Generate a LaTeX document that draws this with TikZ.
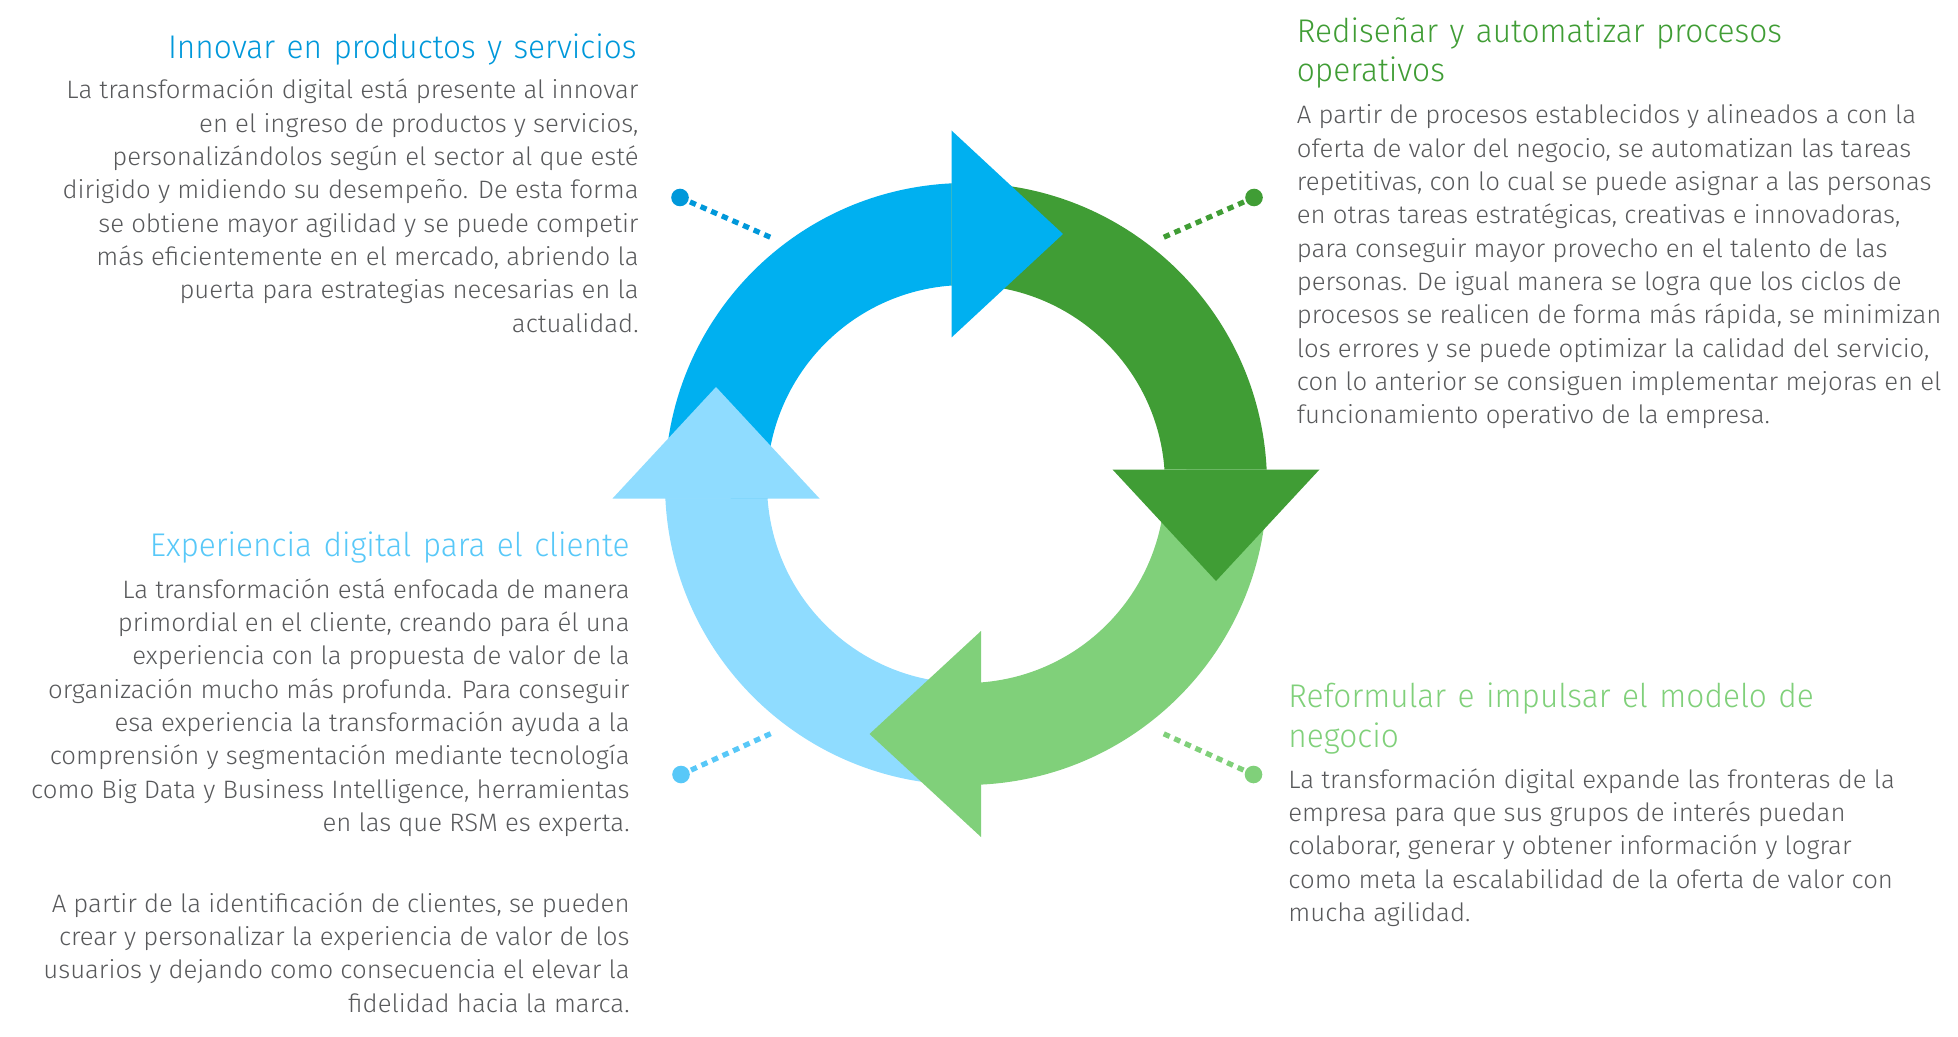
\documentclass[tikz,border=0pt]{standalone}
\usepackage{fontspec}
\setmainfont{Fira Sans Light}[FakeStretch=1.022]
\newfontfamily\titlefont{Fira Sans Light}[FakeStretch=0.965, WordSpace=1.3]
\usetikzlibrary{calc}
\definecolor{ringBlue}{RGB}{0,176,240}
\definecolor{ringGreen}{RGB}{64,157,53}
\definecolor{ringLGreen}{RGB}{128,208,122}
\definecolor{ringLBlue}{RGB}{143,220,255}
\definecolor{tBlue}{RGB}{0,152,218}
\definecolor{tGreen}{RGB}{64,157,53}
\definecolor{tLBlue}{RGB}{88,200,248}
\definecolor{tLGreen}{RGB}{128,208,122}
\definecolor{txtGray}{RGB}{88,89,91}
\tikzset{
  bodytxt/.style={inner sep=0pt, text=txtGray, font=\fontsize{12.6}{14}\selectfont},
  titletxt/.style={inner sep=0pt, font=\titlefont\fontsize{16.4}{18}\selectfont},
  leaderdot/.style={circle, inner sep=0pt, minimum size=8.8pt},
  leader/.style={line width=2.6pt, dash pattern=on 3.2pt off 2.6pt},
}
\begin{document}
\begin{tikzpicture}[x=0.5pt,y=-0.5pt]
\useasboundingbox (0,0) rectangle (1958,1037);
\coordinate (C) at (966,484);
% ring bodies
\fill[ringBlue]   ($(C)+(177.24:301)$) arc[start angle=177.24, end angle=267.24, radius=301] -- ($(C)+(265.82:199)$) arc[start angle=265.82, end angle=175.82, radius=199] -- cycle;
\fill[ringGreen]  ($(C)+(267.24:301)$) arc[start angle=267.24, end angle=357.24, radius=301] -- ($(C)+(355.82:199)$) arc[start angle=355.82, end angle=265.82, radius=199] -- cycle;
\fill[ringLGreen] ($(C)+(357.24:301)$) arc[start angle=357.24, end angle=447.24, radius=301] -- ($(C)+(445.82:199)$) arc[start angle=445.82, end angle=355.82, radius=199] -- cycle;
\fill[ringLBlue]  ($(C)+(447.24:301)$) arc[start angle=447.24, end angle=537.24, radius=301] -- ($(C)+(535.82:199)$) arc[start angle=535.82, end angle=445.82, radius=199] -- cycle;
% arrowheads
\fill[ringBlue]   (951.5,130.5) -- (1063,234) -- (951.5,337.5) -- cycle;
\fill[ringGreen]  (1112.5,469.5) -- (1216,581) -- (1319.5,469.5) -- cycle;
\fill[ringLGreen] (981,631) -- (869.5,734) -- (981,837) -- cycle;
\fill[ringLBlue]  (612.5,498.5) -- (716,387) -- (819.5,498.5) -- cycle;
% leaders
\node[leaderdot, fill=tBlue] (dTL) at (680,197.5) {};
\coordinate (eTL) at (772,238);
\draw[leader, tBlue] (dTL.center) ++(10,4.4) -- (eTL);
\node[leaderdot, fill=ringGreen] (dTR) at (1254,197.5) {};
\coordinate (eTR) at (1162,238);
\draw[leader, ringGreen] (dTR.center) ++(-10,4.4) -- (eTR);
\node[leaderdot, fill=tLBlue] (dBL) at (681,774.5) {};
\coordinate (eBL) at (772,733);
\draw[leader, tLBlue] (dBL.center) ++(10,-4.4) -- (eBL);
\node[leaderdot, fill=ringLGreen] (dBR) at (1253.5,774.5) {};
\coordinate (eBR) at (1162,733);
\draw[leader, ringLGreen] (dBR.center) ++(-10,-4.4) -- (eBR);
% titles
\node[titletxt, text=tBlue, anchor=base east] (tTL) at (637,59) {Innovar en productos y servicios};
\node[titletxt, text=tGreen, anchor=base west] (tTR1) at (1296.5,42.7) {Rediseñar y automatizar procesos};
\node[titletxt, text=tGreen, anchor=base west] (tTR2) at (1296.5,81.5) {operativos};
\node[titletxt, text=tLBlue, anchor=base east] (tBL) at (630,556.3) {Experiencia digital para el cliente};
\node[titletxt, text=tLGreen, anchor=base west] (tBR1) at (1288,707.3) {Reformular e impulsar el modelo de};
\node[titletxt, text=tLGreen, anchor=base west] (tBR2) at (1288,747.3) {negocio};
% body texts
\foreach \t [count=\i] in {
  {La transformación digital está presente al innovar},
  {en el ingreso de productos y servicios,},
  {personalizándolos según el sector al que esté},
  {dirigido y midiendo su desempeño. De esta forma},
  {se obtiene mayor agilidad y se puede competir},
  {más eficientemente en el mercado, abriendo la},
  {puerta para estrategias necesarias en la},
  {actualidad.}}
  \node[bodytxt, anchor=base east] (bTL\i) at (639,{99+(\i-1)*33.333}) {\t};
\foreach \t [count=\i] in {
  {A partir de procesos establecidos y alineados a con la},
  {oferta de valor del negocio, se automatizan las tareas},
  {repetitivas, con lo cual se puede asignar a las personas},
  {en otras tareas estratégicas, creativas e innovadoras,},
  {para conseguir mayor provecho en el talento de las},
  {personas. De igual manera se logra que los ciclos de},
  {procesos se realicen de forma más rápida, se minimizan},
  {los errores y se puede optimizar la calidad del servicio,},
  {con lo anterior se consiguen implementar mejoras en el},
  {funcionamiento operativo de la empresa.}}
  \node[bodytxt, anchor=base west] (bTR\i) at (1296.5,{124+(\i-1)*33.333}) {\t};
\foreach \t [count=\i] in {
  {La transformación está enfocada de manera},
  {primordial en el cliente, creando para él una},
  {experiencia con la propuesta de valor de la},
  {organización mucho más profunda. Para conseguir},
  {esa experiencia la transformación ayuda a la},
  {comprensión y segmentación mediante tecnología},
  {como Big Data y Business Intelligence, herramientas},
  {en las que RSM es experta.}}
  \node[bodytxt, anchor=base east] (bBL\i) at (630,{598+(\i-1)*33.333}) {\t};
\foreach \t [count=\i] in {
  {A partir de la identificación de clientes, se pueden},
  {crear y personalizar la experiencia de valor de los},
  {usuarios y dejando como consecuencia el elevar la},
  {fidelidad hacia la marca.}}
  \node[bodytxt, anchor=base east] (bBM\i) at (630,{912+(\i-1)*33.333}) {\t};
\foreach \t [count=\i] in {
  {La transformación digital expande las fronteras de la},
  {empresa para que sus grupos de interés puedan},
  {colaborar, generar y obtener información y lograr},
  {como meta la escalabilidad de la oferta de valor con},
  {mucha agilidad.}}
  \node[bodytxt, anchor=base west] (bBR\i) at (1288,{788+(\i-1)*33.333}) {\t};
\end{tikzpicture}
\end{document}
